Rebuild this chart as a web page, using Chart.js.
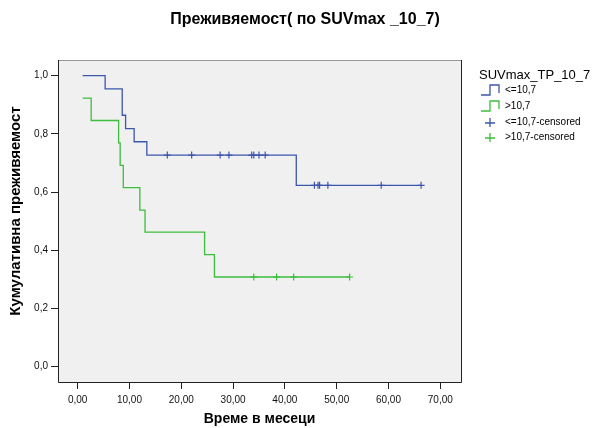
<!DOCTYPE html>
<html>
<head>
<meta charset="utf-8">
<script src="https://cdn.jsdelivr.net/npm/chart.js@4.4.1/dist/chart.umd.min.js"></script>
<style>
  html, body { margin: 0; padding: 0; background: #fff; }
  #wrap { width: 594px; height: 428px; }
</style>
</head>
<body>
<div id="wrap"><canvas id="km"></canvas></div>
<script>
const chartTitle = 'Преживяемост( по SUVmax _10_7)';
const xTitle = 'Време в месеци';
const yTitle = 'Кумулативна преживяемост';
const legendTitle = 'SUVmax_TP_10_7';
const legendLabels = ['<=10,7', '>10,7', '<=10,7-censored', '>10,7-censored'];

const xTicks = [0, 10, 20, 30, 40, 50, 60, 70];
const yTicks = [0, 0.2, 0.4, 0.6, 0.8, 1.0];

// <=10,7 : time of each step and survival after it
const lowTimes = [0.96, 5.3, 8.6, 9.25, 10.9, 13.35, 42.2, 66.3];
const lowSurv  = [1.0, 0.955, 0.864, 0.818, 0.773, 0.727, 0.623, 0.623];
const lowCensTimes = [17.3, 22.0, 27.5, 29.2, 33.6, 34.0, 35.0, 36.2, 45.7, 46.4, 46.7, 48.3, 58.6, 66.3];
const lowCensSurv  = [0.727, 0.727, 0.727, 0.727, 0.727, 0.727, 0.727, 0.727, 0.623, 0.623, 0.623, 0.623, 0.623, 0.623];

// >10,7
const highTimes = [0.96, 2.6, 7.9, 8.2, 8.8, 12.0, 13.0, 24.5, 26.4, 52.5];
const highSurv  = [0.923, 0.846, 0.769, 0.692, 0.615, 0.538, 0.462, 0.385, 0.308, 0.308];
const highCensTimes = [34.0, 38.4, 41.7, 52.5];
const highCensSurv  = [0.308, 0.308, 0.308, 0.308];

const blue = '#3d56ad';
const green = '#3dbd3d';
const FONT = '"Liberation Sans", Arial, sans-serif';

const toPoints = (xs, ys) => xs.map((x, i) => ({ x: x, y: ys[i] }));

const stepSet = (label, xs, ys, color) => ({
    label: label,
    data: toPoints(xs, ys),
    borderColor: color,
    borderWidth: 1.3,
    stepped: 'before',
    pointRadius: 0,
    fill: false
});

const censSet = (label, xs, ys, color) => ({
    label: label,
    data: toPoints(xs, ys),
    showLine: false,
    borderColor: color,
    pointStyle: 'cross',
    pointRadius: 3.5,
    pointBorderWidth: 1.2,
    pointBorderColor: color
});

// plot background, frame, titles and legend
const decor = {
    id: 'decor',
    beforeDatasetsDraw(chart) {
        const { ctx, chartArea: a } = chart;
        ctx.save();
        ctx.fillStyle = '#f0f0f0';
        ctx.fillRect(a.left, a.top, a.right - a.left, a.bottom - a.top);
        ctx.restore();
    },
    afterDraw(chart) {
        const { ctx, chartArea: a } = chart;
        ctx.save();
        ctx.lineWidth = 1;
        ctx.strokeStyle = '#999';
        ctx.beginPath();
        ctx.moveTo(a.left, a.top + 0.5);
        ctx.lineTo(a.right, a.top + 0.5);
        ctx.stroke();
        ctx.strokeStyle = '#222';
        ctx.beginPath();
        ctx.moveTo(a.left + 0.5, a.top);
        ctx.lineTo(a.left + 0.5, a.bottom + 0.5);
        ctx.lineTo(a.right + 0.5, a.bottom + 0.5);
        ctx.lineTo(a.right + 0.5, a.top);
        ctx.stroke();

        ctx.fillStyle = '#000';
        ctx.textBaseline = 'middle';
        ctx.textAlign = 'center';
        ctx.font = 'bold 16px ' + FONT;
        ctx.fillText(chartTitle, 305, 20);

        // y axis title, rotated
        ctx.save();
        ctx.translate(16, 211);
        ctx.rotate(-Math.PI / 2);
        ctx.font = 'bold 15px ' + FONT;
        ctx.fillText(yTitle, 0, 0);
        ctx.restore();

        ctx.textAlign = 'left';
        ctx.font = '13px ' + FONT;
        ctx.fillText(legendTitle, 479, 75);

        ctx.font = '10px ' + FONT;
        const rows = [90, 106, 122, 137];
        const cols = [blue, green, blue, green];
        rows.forEach((y, i) => {
            ctx.strokeStyle = cols[i];
            ctx.lineWidth = 1.3;
            ctx.beginPath();
            if (i < 2) {
                ctx.moveTo(481, y + 5);
                ctx.lineTo(490, y + 5);
                ctx.lineTo(490, y - 5);
                ctx.lineTo(499, y - 5);
                ctx.lineTo(499, y + 3);
            } else {
                ctx.moveTo(485, y + 1);
                ctx.lineTo(495, y + 1);
                ctx.moveTo(490, y - 4);
                ctx.lineTo(490, y + 5);
            }
            ctx.stroke();
            ctx.fillText(legendLabels[i], 505, y);
        });
        ctx.restore();
    }
};

new Chart(document.getElementById('km'), {
    type: 'line',
    data: {
        datasets: [
            stepSet(legendLabels[1], highTimes, highSurv, green),
            stepSet(legendLabels[0], lowTimes, lowSurv, blue),
            censSet(legendLabels[3], highCensTimes, highCensSurv, green),
            censSet(legendLabels[2], lowCensTimes, lowCensSurv, blue)
        ]
    },
    options: {
        responsive: true,
        maintainAspectRatio: false,
        animation: false,
        devicePixelRatio: 1,
        layout: { padding: { left: 0, right: 133, top: 60, bottom: 0 } },
        plugins: {
            legend: { display: false },
            tooltip: { enabled: false },
            title: { display: false }
        },
        scales: {
            x: {
                type: 'linear',
                min: -3.8,
                max: 74,
                afterFit: scale => { scale.height = 46; },
                afterBuildTicks: scale => { scale.ticks = xTicks.map(v => ({ value: v })); },
                grid: { drawOnChartArea: false, drawTicks: true, tickLength: 7, color: '#222' },
                border: { display: false },
                ticks: {
                    padding: 5,
                    color: '#111',
                    font: { family: FONT, size: 10 },
                    maxRotation: 0,
                    callback: v => v.toFixed(2).replace('.', ',')
                },
                title: {
                    display: true,
                    text: xTitle,
                    color: '#000',
                    font: { family: FONT, size: 14, weight: 'bold' },
                    padding: { top: 0, bottom: 0 }
                }
            },
            y: {
                type: 'linear',
                min: -0.053,
                max: 1.054,
                afterFit: scale => { scale.width = 58; },
                afterBuildTicks: scale => { scale.ticks = yTicks.map(v => ({ value: v })); },
                grid: { drawOnChartArea: false, drawTicks: true, tickLength: 7, color: '#222' },
                border: { display: false },
                ticks: {
                    padding: 3,
                    color: '#111',
                    font: { family: FONT, size: 10 },
                    callback: v => v.toFixed(1).replace('.', ',')
                },
                title: { display: false }
            }
        }
    },
    plugins: [decor]
});
</script>
</body>
</html>
